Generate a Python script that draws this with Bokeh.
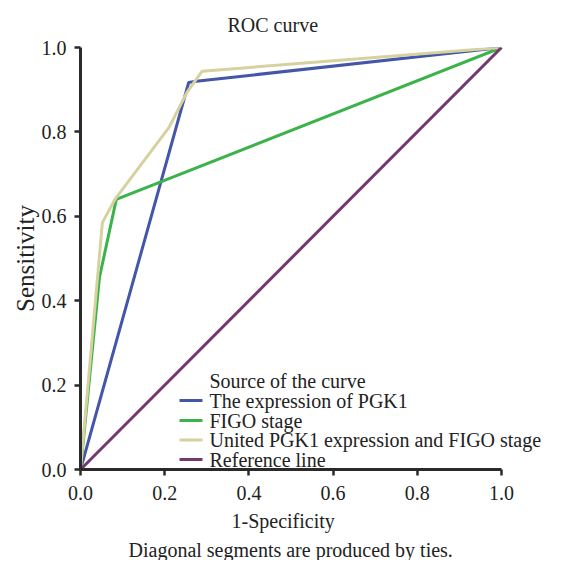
from bokeh.plotting import figure
from bokeh.models import Range1d, FixedTicker, PrintfTickFormatter, Title
from bokeh.core.properties import value
from bokeh.embed import file_html
from bokeh.resources import INLINE

# ---- data ----
pgk1_x = [0.0, 0.257, 0.275, 1.0]
pgk1_y = [0.0, 0.917, 0.920, 1.0]
figo_x = [0.0, 0.045, 0.085, 1.0]
figo_y = [0.0, 0.455, 0.640, 1.0]
united_x = [0.0, 0.052, 0.083, 0.210, 0.253, 0.289, 1.0]
united_y = [0.0, 0.585, 0.642, 0.810, 0.894, 0.944, 1.0]
ref_x = [0.0, 1.0]
ref_y = [0.0, 1.0]
ticks = [0.0, 0.2, 0.4, 0.6, 0.8, 1.0]
series_names = ["The expression of PGK1", "FIGO stage",
                "United PGK1 expression and FIGO stage", "Reference line"]
title_text = "ROC curve"
legend_title = "Source of the curve"
x_label = "1-Specificity"
y_label = "Sensitivity"
caption = "Diagonal segments are produced by ties."

FONT = "Liberation Serif"
TXT = "#222222"
colors = ["#4456a8", "#3cb34a", "#d6d2a0", "#74386f"]

# layout (pixels)
PX_X = 421.0          # pixels per unit on x
PX_Y = 422.0          # pixels per unit on y
FRAME_W = 470         # frame extends right so the legend text is not clipped
FRAME_H = 422
LEFT, TOP = 80, 47

p = figure(output_backend="svg", toolbar_location=None,
           frame_width=FRAME_W, frame_height=FRAME_H,
           min_border_left=LEFT, min_border_right=6,
           min_border_top=TOP, min_border_bottom=560 - TOP - FRAME_H,
           x_range=Range1d(0, FRAME_W / PX_X), y_range=Range1d(0, 1))
p.outline_line_color = None
p.xgrid.visible = False
p.ygrid.visible = False
p.background_fill_color = "white"
p.border_fill_color = "white"

for ax in (p.xaxis[0], p.yaxis[0]):
    ax.ticker = FixedTicker(ticks=ticks)
    ax.formatter = PrintfTickFormatter(format="%.1f")
    ax.bounds = (0, 1)
    ax.minor_tick_line_color = None
    ax.axis_line_width = 3
    ax.axis_line_color = "#2a2a2a"
    ax.major_tick_line_width = 2.5
    ax.major_tick_line_color = "#2a2a2a"
    ax.major_tick_in = 0
    ax.major_tick_out = 6
    ax.major_label_text_font = FONT
    ax.major_label_text_font_size = "20px"
    ax.major_label_text_color = TXT
    ax.axis_label_text_font = FONT
    ax.axis_label_text_font_style = "normal"
    ax.axis_label_text_color = TXT

p.xaxis[0].major_label_standoff = 10
p.yaxis[0].axis_label = y_label
p.yaxis[0].axis_label_text_font_size = "25px"
p.yaxis[0].major_label_standoff = 8
p.yaxis[0].axis_label_standoff = 0

curves = [(pgk1_x, pgk1_y), (figo_x, figo_y), (united_x, united_y), (ref_x, ref_y)]
for (xs, ys), c in zip(curves, colors):
    p.line(xs, ys, line_color=c, line_width=3)

# ---- legend (drawn inside the frame so it is not clipped) ----
def dx(px):
    return (px - LEFT) / PX_X

def dy(py):
    return (TOP + FRAME_H - py) / PX_Y

row_py = [400, 420, 439.5, 459]
p.segment(x0=[dx(179)] * 4, x1=[dx(202)] * 4,
          y0=[dy(v) for v in row_py], y1=[dy(v) for v in row_py],
          line_color=colors, line_width=3)
p.text(x=[dx(209)] * 5, y=[dy(380)] + [dy(v) for v in row_py],
       text=[legend_title] + series_names,
       text_font=value(FONT), text_font_size=value("20px"),
       text_color=TXT, text_baseline="middle", text_align="left")

p.add_layout(Title(text=title_text, align="left", offset=147, standoff=21,
                   vertical_align="middle", text_line_height=0.9,
                   text_font=FONT, text_font_size="20px",
                   text_font_style="normal", text_color=TXT), "above")
# x-axis label centred under the 0..1 axis (not the wider frame)
p.add_layout(Title(text=x_label, align="left", offset=151, standoff=10,
                   text_font=FONT, text_font_size="20px",
                   text_font_style="normal", text_color=TXT), "below")
p.add_layout(Title(text=caption, align="left", offset=48, standoff=0,
                   text_font=FONT, text_font_size="20px",
                   text_font_style="normal", text_color=TXT), "below")

open("out.html", "w").write(file_html(p, INLINE))
